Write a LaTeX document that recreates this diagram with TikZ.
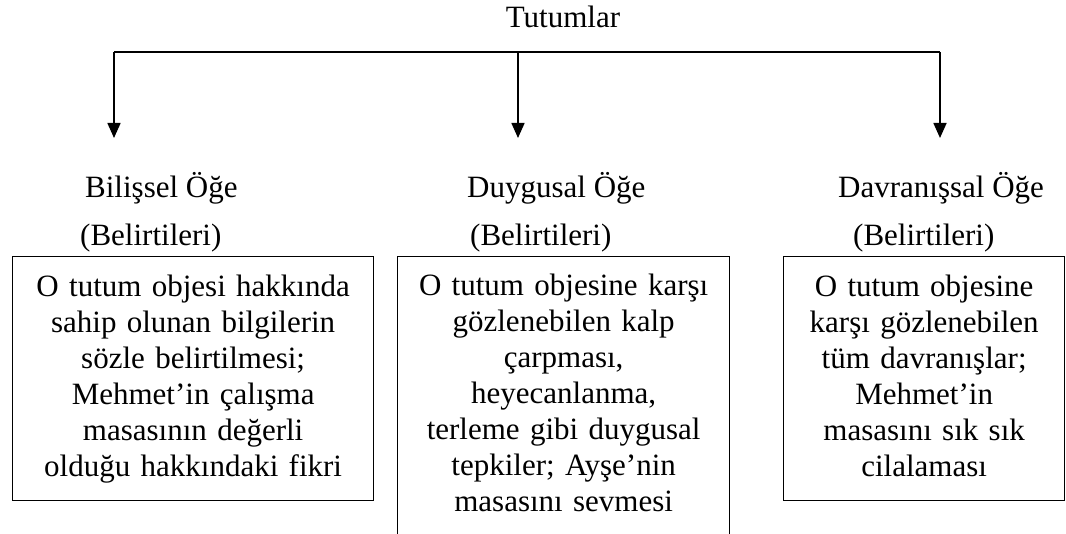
\documentclass[tikz,border=0pt]{standalone}
\usepackage{fontspec}
\setmainfont{Liberation Serif}
\usetikzlibrary{arrows.meta}
\begin{document}
\begin{tikzpicture}[x=1pt,y=-1pt,
  txt/.style={font=\fontsize{31}{36}\selectfont, inner sep=0pt},
  boxnode/.style={draw, line width=1.3pt, font=\fontsize{31}{36}\selectfont, align=center, anchor=north west, inner sep=0pt},
  arr/.style={line width=1.6pt, -{Triangle[width=13pt,length=15pt]}},
  hline/.style={line width=1.3pt}]
\useasboundingbox (0,0) rectangle (1066,534);
\clip (0,0) rectangle (1066,534);
\node[txt, anchor=base] (tut) at (563,28) {Tutumlar};
\coordinate (hl) at (114,52);
\coordinate (hm) at (518,52);
\coordinate (hr) at (940,52);
\coordinate (t1) at (114,138);
\coordinate (t2) at (518,138);
\coordinate (t3) at (940,138);
\draw[hline] (hl) -- (hr);
\draw[arr] (hl) -- (t1);
\draw[arr] (hm) -- (t2);
\draw[arr] (hr) -- (t3);
\node[txt, anchor=base west] (bil) at (85,198) {Bilişsel Öğe};
\node[txt, anchor=base west] (bilb) at (80,246) {(Belirtileri)};
\node[txt, anchor=base west] (duy) at (467,198) {Duygusal Öğe};
\node[txt, anchor=base west] (duyb) at (470,246) {(Belirtileri)};
\node[txt, anchor=base west] (dav) at (838,198) {Davranışsal Öğe};
\node[txt, anchor=base west] (davb) at (853,246) {(Belirtileri)};
\node[boxnode, minimum width=361pt, minimum height=244pt, text width=355pt] (b1) at (12,256)
  {O tutum objesi hakkında\\sahip olunan bilgilerin\\sözle belirtilmesi;\\Mehmet’in çalışma\\masasının değerli\\olduğu hakkındaki fikri};
\node[boxnode, minimum width=332pt, minimum height=280pt, text width=325pt] (b2) at (397,256)
  {O tutum objesine karşı\\gözlenebilen kalp\\çarpması,\\heyecanlanma,\\terleme gibi duygusal\\tepkiler; Ayşe’nin\\masasını sevmesi\rule[-7pt]{0pt}{7pt}};
\node[boxnode, minimum width=281pt, minimum height=244pt, text width=275pt] (b3) at (783,256)
  {O tutum objesine\\karşı gözlenebilen\\tüm davranışlar;\\Mehmet’in\\masasını sık sık\\cilalaması\rule[-6pt]{0pt}{6pt}};
\end{tikzpicture}
\end{document}
